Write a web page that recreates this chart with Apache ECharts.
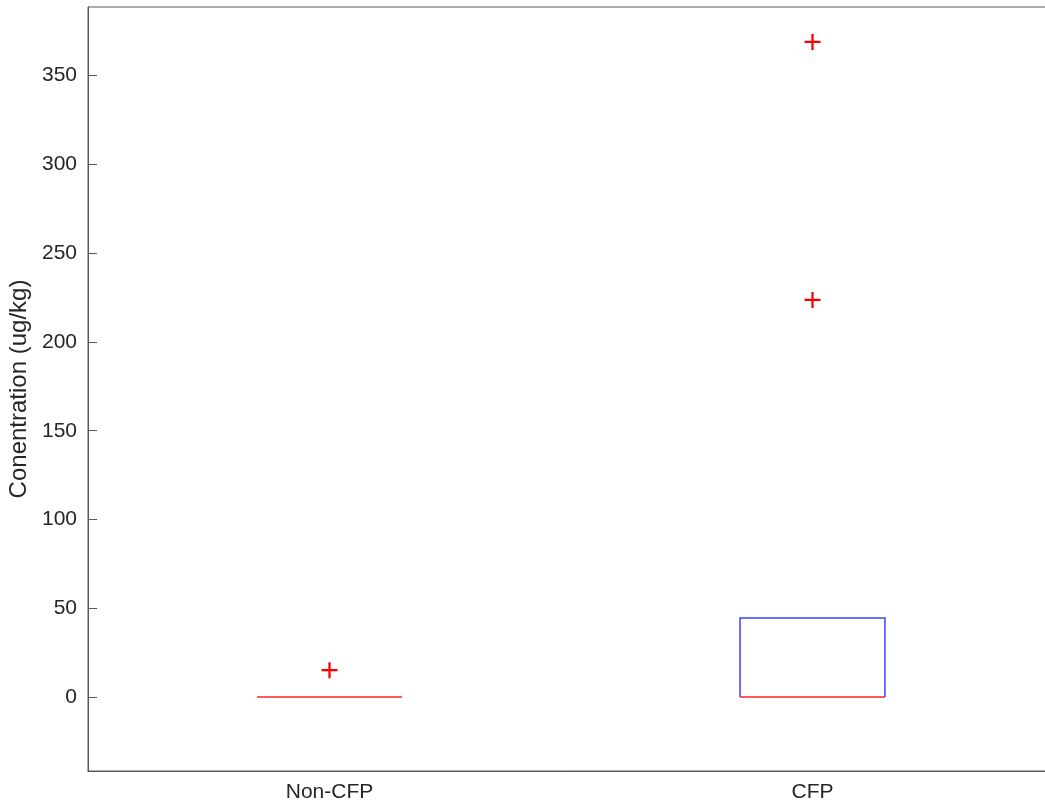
<!DOCTYPE html>
<html>
<head>
<meta charset="utf-8">
<script src="https://cdn.jsdelivr.net/npm/echarts@6/dist/echarts.min.js"></script>
<style>
  html, body { margin: 0; padding: 0; background: #fff; overflow: hidden; }
  #chart { width: 1045px; height: 808px; }
</style>
</head>
<body>
<div id="chart"></div>
<script>
// Groups on the horizontal axis
var categories = ['Non-CFP', 'CFP'];

// Box statistics per group (ug/kg)
var whiskerLow  = [0, 0];
var quartile1   = [0, 0];
var medians     = [0, 0];
var quartile3   = [0, 44.5];
var whiskerHigh = [0, 44.5];

// Outliers: [group index, value]
var outliers = [
  [0, 15.1],
  [1, 223.7],
  [1, 369.0]
];

// Tick labels on the value axis
var yTicks = [0, 50, 100, 150, 200, 250, 300, 350];

var axisColor = '#595959';
var textColor = '#262626';
var fontFamily = '"Liberation Sans", Arial, Helvetica, sans-serif';

var boxData = categories.map(function (c, i) {
  return [i, whiskerLow[i], quartile1[i], medians[i], quartile3[i], whiskerHigh[i]];
});

function renderBox(params, api) {
  var idx = api.value(0);
  var bandW = api.size([1, 0])[0];
  var halfW = bandW * 0.15;
  var center = api.coord([idx, 0])[0];
  var left = center - halfW, right = center + halfW;
  var yLo = api.coord([idx, api.value(1)])[1];
  var yQ1 = api.coord([idx, api.value(2)])[1];
  var yMed = api.coord([idx, api.value(3)])[1];
  var yQ3 = api.coord([idx, api.value(4)])[1];
  var yHi = api.coord([idx, api.value(5)])[1];
  var boxStyle = { fill: 'none', stroke: '#4040ff', lineWidth: 1.5 };
  var children = [];
  // whiskers (dashed black) and their end caps
  if (yHi < yQ3 - 0.5) {
    children.push({ type: 'line', shape: { x1: center, y1: yQ3, x2: center, y2: yHi },
      style: { stroke: '#000', lineWidth: 1, lineDash: [6, 4] } });
    children.push({ type: 'line', shape: { x1: center - halfW / 2, y1: yHi, x2: center + halfW / 2, y2: yHi },
      style: { stroke: '#000', lineWidth: 1 } });
  }
  if (yLo > yQ1 + 0.5) {
    children.push({ type: 'line', shape: { x1: center, y1: yQ1, x2: center, y2: yLo },
      style: { stroke: '#000', lineWidth: 1, lineDash: [6, 4] } });
    children.push({ type: 'line', shape: { x1: center - halfW / 2, y1: yLo, x2: center + halfW / 2, y2: yLo },
      style: { stroke: '#000', lineWidth: 1 } });
  }
  // interquartile box: sides and top, bottom edge only where the median does not lie on it
  if (yQ1 - yQ3 > 0.5) {
    children.push({ type: 'polyline',
      shape: { points: [[left, yQ1], [left, yQ3], [right, yQ3], [right, yQ1]] },
      style: boxStyle });
    if (Math.abs(yQ1 - yMed) > 0.5) {
      children.push({ type: 'line', shape: { x1: left, y1: yQ1, x2: right, y2: yQ1 }, style: boxStyle });
    }
  }
  // median
  children.push({ type: 'line', shape: { x1: left, y1: yMed, x2: right, y2: yMed },
    style: { stroke: '#ff2020', lineWidth: 1.5 } });
  return { type: 'group', children: children };
}

var chart = echarts.init(document.getElementById('chart'), null, { renderer: 'canvas' });

chart.setOption({
  backgroundColor: '#ffffff',
  animation: false,
  grid: {
    left: 88, top: 7, width: 966, bottom: 37,
    outerBoundsMode: 'none',
    containLabel: false,
    show: true, borderColor: axisColor, borderWidth: 1, backgroundColor: 'transparent'
  },
  xAxis: {
    type: 'category',
    data: categories,
    boundaryGap: true,
    axisLine: { onZero: false, lineStyle: { color: axisColor, width: 1 } },
    axisTick: { inside: true, alignWithLabel: true, length: 9, lineStyle: { color: axisColor } },
    axisLabel: { color: textColor, fontSize: 21, fontFamily: fontFamily, margin: 11 },
    splitLine: { show: false }
  },
  yAxis: {
    type: 'value',
    min: -41.7,
    max: 388.7,
    name: 'Conentration (ug/kg)',
    nameLocation: 'middle',
    nameGap: 54,
    nameTextStyle: { color: textColor, fontSize: 24, fontFamily: fontFamily },
    axisLine: { show: true, onZero: false, lineStyle: { color: axisColor, width: 1 } },
    axisTick: { show: true, inside: true, length: 9, customValues: yTicks, lineStyle: { color: axisColor } },
    axisLabel: { color: textColor, fontSize: 21, fontFamily: fontFamily, margin: 11, customValues: yTicks },
    splitLine: { show: false }
  },
  series: [
    {
      type: 'custom',
      renderItem: renderBox,
      data: boxData,
      encode: { x: 0, y: [1, 2, 3, 4, 5] },
      clip: true,
      z: 2
    },
    {
      type: 'scatter',
      data: outliers,
      symbol: 'path://M6,0h2v14h-2z M0,6h14v2h-14z',
      symbolSize: 16,
      itemStyle: { color: '#ff0000', opacity: 1 },
      z: 3
    }
  ]
});
</script>
</body>
</html>
